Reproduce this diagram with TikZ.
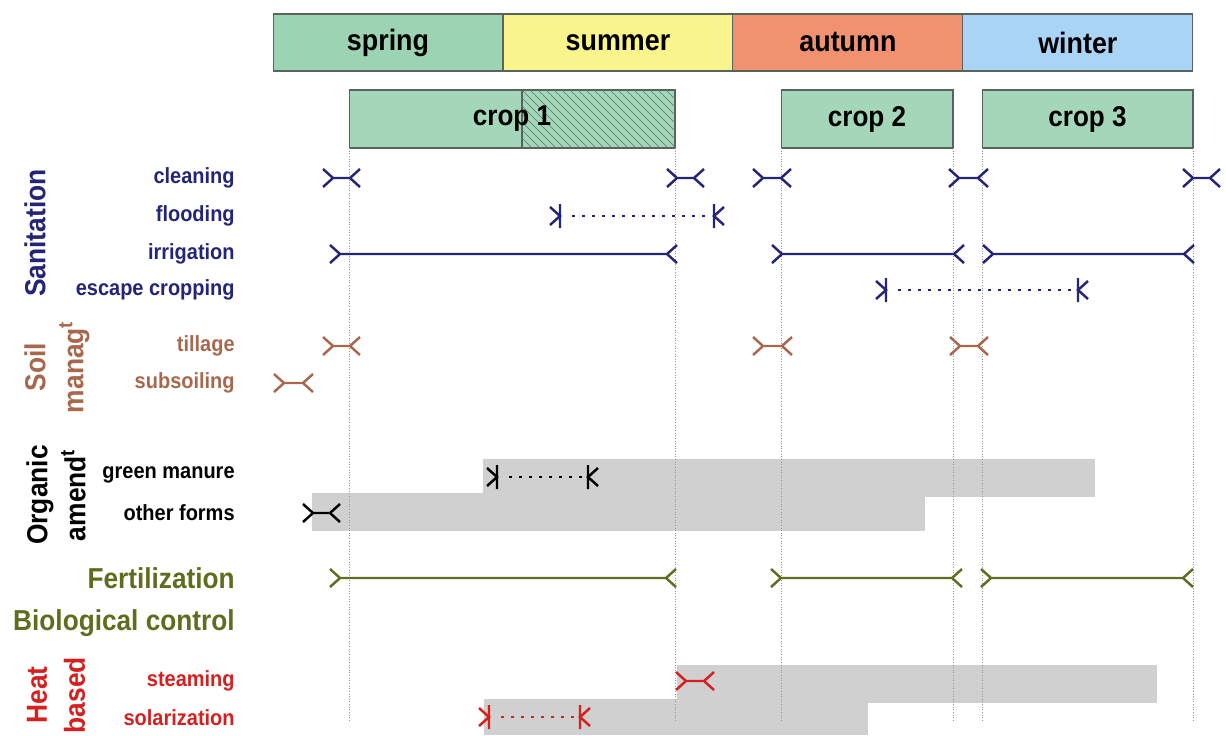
\documentclass[tikz,border=0pt]{standalone}
\usepackage{fontspec}
\setmainfont{Liberation Sans}[FakeStretch=0.91]
\usepackage{xcolor}
\usetikzlibrary{positioning}

\definecolor{springc}{RGB}{156,211,178}
\definecolor{summerc}{RGB}{250,244,140}
\definecolor{autumnc}{RGB}{240,146,112}
\definecolor{winterc}{RGB}{170,212,246}
\definecolor{cropc}{RGB}{164,214,186}
\definecolor{boxline}{RGB}{90,100,95}
\definecolor{hatchc}{RGB}{88,120,104}
\definecolor{bandgray}{RGB}{208,208,208}
\definecolor{navy}{RGB}{36,36,120}
\definecolor{soilbrown}{RGB}{168,104,78}
\definecolor{olive}{RGB}{96,108,30}
\definecolor{heatred}{RGB}{214,32,32}

% fixed period: barbs at both ends
\newcommand{\fixspan}[4]{%
  \draw[span,#1] (#2-10,#4-9) -- (#2,#4) -- (#2-10,#4+9)
    (#2,#4) -- (#3,#4)
    (#3+10,#4-9) -- (#3,#4) -- (#3+10,#4+9);}
% flexible period: barbs and bars, dotted line
\newcommand{\varspan}[4]{%
  \draw[span,#1] (#2-10,#4-9) -- (#2,#4) -- (#2-10,#4+9)
    (#2,#4-12) -- (#2,#4+12)
    (#3+10,#4-9) -- (#3,#4) -- (#3+10,#4+9)
    (#3,#4-12) -- (#3,#4+12);
  \draw[#1,dotline] (#2+12,#4) -- (#3-4,#4);}

\begin{document}
\begin{tikzpicture}[x=0.02cm,y=-0.02cm,
    season/.style={draw=boxline, line width=0.6pt, minimum height=1.14cm, inner sep=0pt, outer sep=0pt, font=\fontsize{16.8}{18}\selectfont\bfseries},
    crop/.style={draw=boxline, line width=0.6pt, fill=cropc, minimum height=1.16cm, inner sep=0pt, outer sep=0pt},
    croptext/.style={inner sep=0pt, font=\fontsize{16.3}{18}\selectfont\bfseries},
    guide/.style={gray!85, densely dotted, line width=0.5pt},
    band/.style={fill=bandgray},
    sub/.style={anchor=east, inner sep=0pt, font=\fontsize{12.5}{14}\selectfont\bfseries},
    main/.style={anchor=east, inner sep=0pt, font=\fontsize{16.4}{18}\selectfont\bfseries},
    group/.style={rotate=90, align=center, inner sep=0pt, font=\fontsize{16.5}{21.6}\selectfont\bfseries},
    span/.style={line width=1.4pt, line join=miter},
    dotline/.style={line width=1.6pt, dash pattern=on 1.6pt off 4.1pt}]
  \useasboundingbox (0,0) rectangle (1226,735);

  % seasons
  \node[season, fill=springc, minimum width=4.6cm] (spring) at (388,42.5) {spring};
  \node[season, fill=summerc, minimum width=4.6cm, right=0pt of spring] (summer) {summer};
  \node[season, fill=autumnc, minimum width=4.6cm, right=0pt of summer] (autumn) {autumn};
  \node[season, fill=winterc, minimum width=4.6cm, right=0pt of autumn] (winter) {winter};

  % crops
  \node[crop, minimum width=6.52cm] (crop1) at (512,119) {};
  \node[crop, minimum width=3.44cm] (crop2) at (867,119) {};
  \node[crop, minimum width=4.22cm] (crop3) at (1087.5,119) {};
  \begin{scope}
    \clip (522,90) rectangle (675,148);
    \foreach \h in {458,466,...,682} \draw[hatchc, line width=0.35pt] (\h,90) -- (\h+58,148);
  \end{scope}
  \draw[boxline, line width=0.6pt] (522,90) -- (522,148);
  \node[croptext] (crop1label) at (crop1) {crop 1};
  \node[croptext] (crop2label) at (crop2) {crop 2};
  \node[croptext] (crop3label) at (crop3) {crop 3};

  % grey periods
  \fill[band] (483,459) rectangle (1095,497);
  \fill[band] (312,493) rectangle (925,531);
  \fill[band] (677,665) rectangle (1157,703);
  \fill[band] (484,699) rectangle (868,735);

  % guide lines
  \coordinate (bottom) at (0,720);
  \foreach \c in {crop1,crop2,crop3} {
    \draw[guide] (\c.south west) -- (\c.south west |- bottom);
    \draw[guide] (\c.south east) -- (\c.south east |- bottom);
  }

  % labels
  \node[group, navy] (sanitation) at (35,233) {Sanitation};
  \node[sub, navy] (cleaning) at (235,178) {cleaning};
  \node[sub, navy] (flooding) at (235,216) {flooding};
  \node[sub, navy] (irrigation) at (235,254) {irrigation};
  \node[sub, navy] (escape) at (235,290) {escape cropping};
  \node[group, soilbrown] (soil) at (57,367) {Soil\\manag\textsuperscript{t}};
  \node[sub, soilbrown] (tillage) at (235,346) {tillage};
  \node[sub, soilbrown] (subsoiling) at (235,383) {subsoiling};
  \node[group, black] (organic) at (56,495) {Organic\\amend\textsuperscript{t}};
  \node[sub, black] (manure) at (235,475) {green manure};
  \node[sub, black] (otherforms) at (235,513) {other forms};
  \node[main, olive] (fertilization) at (235,578) {Fertilization};
  \node[main, olive] (biocontrol) at (235,623) {Biological control};
  \node[group, heatred] (heat) at (56,695) {Heat\\based};
  \node[sub, heatred] (steaming) at (235,681) {steaming};
  \node[sub, heatred] (solarization) at (235,718) {solarization};

  % sanitation
  \fixspan{navy}{333}{350}{178}
  \fixspan{navy}{677}{694}{178}
  \fixspan{navy}{763}{781}{178}
  \fixspan{navy}{959}{978}{178}
  \fixspan{navy}{1193}{1210}{178}
  \varspan{navy}{560}{714}{216}
  \fixspan{navy}{340}{667}{254}
  \fixspan{navy}{782}{954}{254}
  \fixspan{navy}{993}{1184}{254}
  \varspan{navy}{886}{1078}{290}
  % soil
  \fixspan{soilbrown}{333}{350}{346}
  \fixspan{soilbrown}{763}{782}{346}
  \fixspan{soilbrown}{960}{978}{346}
  \fixspan{soilbrown}{284}{303}{383}
  % organic
  \varspan{black}{497}{588}{477}
  \fixspan{black}{313}{330}{513}
  % fertilization
  \fixspan{olive}{340}{666}{578}
  \fixspan{olive}{781}{952}{578}
  \fixspan{olive}{991}{1183}{578}
  % heat
  \fixspan{heatred}{686}{704}{681}
  \varspan{heatred}{489}{580}{717}
\end{tikzpicture}
\end{document}
